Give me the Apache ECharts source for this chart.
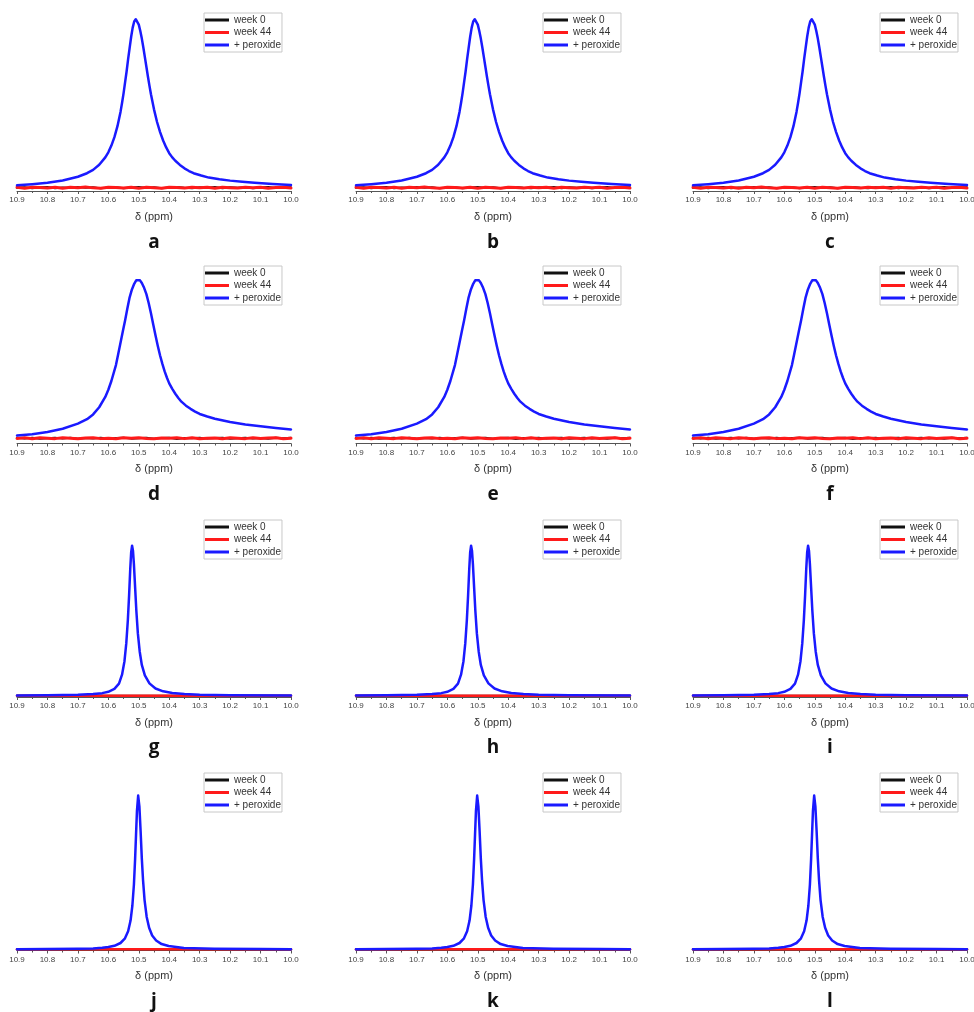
<!DOCTYPE html>
<html><head><meta charset="utf-8">
<script src="https://cdn.jsdelivr.net/npm/echarts@6/dist/echarts.min.js"></script>
<style>html,body{margin:0;padding:0;background:#fff}#c{width:974px;height:1012px}</style>
</head><body><div id="c"></div>
<script>
// ---- data ----
const seriesNames = ['week 0', 'week 44', '+ peroxide'];
const seriesColors = ['#111111', '#ff1a1a', '#1a1aff'];
const panelLetters = ['a','b','c','d','e','f','g','h','i','j','k','l'];

// row 1 (a, b, c)
const ppmRow1 = [10.9, 10.85, 10.8, 10.75, 10.7, 10.67, 10.65, 10.63, 10.61, 10.6, 10.59, 10.58, 10.57, 10.56, 10.555, 10.55, 10.545, 10.54, 10.535, 10.53, 10.525, 10.52, 10.515, 10.51,
  10.505, 10.5, 10.495, 10.49, 10.485, 10.48, 10.475, 10.47, 10.465, 10.46, 10.45, 10.44, 10.43, 10.42, 10.41, 10.4, 10.39, 10.38, 10.365, 10.35, 10.335, 10.32, 10.295, 10.27, 10.235, 10.2, 10.16, 10.12, 10.06, 10.0];
const peroxideRow1 = [1.4, 2.1, 3.0, 4.3, 6.5, 8.6, 10.6, 13.6, 18.0, 21.0, 25.0, 30.0, 36.5, 45.0, 50.3, 56.0, 62.5, 69.0, 76.3, 83.0, 89.6, 95.0, 98.7, 100,
  99.2, 96.8, 93.0, 88.5, 83.2, 77.5, 71.8, 66.0, 60.6, 55.5, 46.5, 39.0, 33.0, 28.0, 23.9, 20.5, 18.0, 16.0, 13.5, 11.5, 9.9, 8.6, 7.2, 6.0, 5.0, 4.2, 3.55, 3.0, 2.2, 1.6];

// row 2 (d, e, f)
const ppmRow2 = [10.9, 10.85, 10.8, 10.75, 10.7, 10.67, 10.65, 10.63, 10.61, 10.6, 10.59, 10.575, 10.5675, 10.56, 10.5525, 10.545, 10.5375, 10.53, 10.5225, 10.515, 10.508, 10.502,
  10.496, 10.49, 10.4825, 10.475, 10.4675, 10.46, 10.4525, 10.445, 10.4375, 10.43, 10.4225, 10.415, 10.4075, 10.4, 10.39, 10.38, 10.37, 10.36, 10.345, 10.33, 10.315, 10.3, 10.275, 10.25, 10.2, 10.15, 10.1, 10.05, 10.0];
const peroxideRow2 = [1.7, 2.6, 4.0, 6.0, 9.2, 12.0, 15.0, 19.5, 26.0, 30.5, 36.0, 46.0, 53.0, 60.0, 67.0, 74.0, 81.5, 88.5, 93.5, 97.0, 99.3, 100,
  99.2, 97.5, 94.5, 90.5, 85.0, 78.5, 71.5, 64.5, 58.0, 52.0, 46.7, 42.0, 38.0, 34.5, 31.0, 28.0, 25.3, 23.0, 20.5, 18.5, 16.8, 15.3, 13.7, 12.3, 10.2, 8.7, 7.5, 6.5, 5.6];

// row 3 (g, h, i)
const ppmRow3 = [10.9, 10.8, 10.7, 10.65, 10.62, 10.6, 10.58, 10.565, 10.555, 10.547, 10.541, 10.536, 10.532, 10.528, 10.525, 10.522,
  10.519, 10.516, 10.512, 10.508, 10.503, 10.497, 10.49, 10.48, 10.465, 10.445, 10.42, 10.39, 10.35, 10.3, 10.2, 10.0];
const peroxideRow3 = [0.15, 0.25, 0.6, 1.1, 1.7, 2.6, 4.5, 8.0, 14.0, 23.0, 35.0, 50.0, 66.0, 84.5, 95.5, 100,
  96.6, 87.7, 72.0, 56.6, 41.5, 29.5, 20.5, 13.5, 8.2, 4.8, 2.9, 1.8, 1.1, 0.65, 0.3, 0.1];

// row 4 (j, k, l)
const ppmRow4 = [10.9, 10.8, 10.7, 10.65, 10.62, 10.6, 10.58, 10.56, 10.546, 10.535, 10.527, 10.521, 10.516, 10.512, 10.509, 10.506, 10.502,
  10.498, 10.494, 10.49, 10.486, 10.481, 10.474, 10.466, 10.456, 10.443, 10.425, 10.402, 10.352, 10.252, 10.1, 10.0];
const peroxideRow4 = [0.1, 0.2, 0.35, 0.6, 1.0, 1.5, 2.3, 4.1, 6.9, 11.7, 18.7, 28.5, 42.0, 59.0, 74.6, 90.0, 100,
  93.0, 77.0, 59.0, 45.0, 32.0, 21.0, 14.0, 9.0, 5.7, 3.4, 2.1, 0.9, 0.4, 0.2, 0.1];

// baselines (week 0 / week 44)
const ppmBaseline = [10.9, 10.875, 10.85, 10.825, 10.8, 10.775, 10.75, 10.725, 10.7, 10.675, 10.65, 10.625, 10.6, 10.575, 10.55, 10.525, 10.5, 10.475, 10.45, 10.425, 10.4, 10.375, 10.35, 10.325, 10.3, 10.275, 10.25, 10.225, 10.2, 10.175, 10.15, 10.125, 10.1, 10.075, 10.05, 10.025, 10.0];
const week0Row1 = [-0.1, 0.3, -0.3, 0.2, 0.4, -0.3, 0.1, -0.2, 0.4, -0.1, 0.3, -0.4, 0.1, 0.3, -0.3, 0.1, 0.4, -0.2, 0.3, -0.3, 0.1, 0.4, -0.1, -0.3, 0.3, 0.0, 0.4, -0.3, 0.2, -0.1, 0.3, -0.3, 0.1, 0.4, -0.2, 0.1, 0.3];
const week44Row1 = [0.2, -0.3, 0.3, 0.1, -0.2, 0.3, -0.3, 0.2, 0.0, 0.4, -0.1, -0.3, 0.3, 0.1, -0.2, 0.3, -0.3, 0.2, 0.0, -0.3, 0.3, 0.1, -0.2, 0.3, -0.1, 0.2, -0.3, 0.3, 0.0, -0.2, 0.3, -0.1, 0.2, -0.3, 0.1, 0.3, -0.2];
const week0Row2 = [0.3, -0.2, 0.4, -0.3, 0.1, 0.3, -0.2, 0.4, -0.3, 0.2, -0.1, 0.4, -0.3, 0.2, 0.3, -0.2, 0.1, 0.4, -0.3, 0.2, 0.3, -0.4, 0.2, 0.0, 0.4, -0.2, 0.2, 0.3, -0.3, 0.1, 0.4, -0.2, 0.2, -0.3, 0.3, 0.0, 0.3];
const week44Row2 = [-0.1, 0.3, -0.3, 0.3, 0.0, -0.2, 0.3, 0.1, -0.3, 0.2, 0.3, -0.2, 0.1, -0.3, 0.3, 0.0, 0.3, -0.1, -0.3, 0.2, 0.1, 0.3, -0.2, 0.3, -0.3, 0.1, 0.2, -0.3, 0.3, 0.0, -0.2, 0.3, -0.1, 0.2, 0.3, -0.3, 0.1];
const ppmFlat = [10.9, 10.0];
const week0Row3 = [0, 0], week44Row3 = [0, 0];
const week0Row4 = [0, 0], week44Row4 = [0, 0];

const rows = [
  {ppm: ppmRow1, per: peroxideRow1, bppm: ppmBaseline, w0: week0Row1, w44: week44Row1},
  {ppm: ppmRow2, per: peroxideRow2, bppm: ppmBaseline, w0: week0Row2, w44: week44Row2},
  {ppm: ppmRow3, per: peroxideRow3, bppm: ppmFlat, w0: week0Row3, w44: week44Row3},
  {ppm: ppmRow4, per: peroxideRow4, bppm: ppmFlat, w0: week0Row4, w44: week44Row4}
];

// ---- layout ----
const FONT = '"Liberation Sans", Arial, sans-serif';
const colLeft = [17, 356, 693], plotW = 274;
const rowTop = [13, 266, 520, 773];
const rowAxis = [191, 443.5, 697, 950.5];
const rowYMin = [-1.96, -3.26, -0.87, -0.78];
const rowYMax = [103.7, 108.2, 117.1, 114.7];
const letterY = [243, 495, 748, 1002];

const zip = (xs, ys) => xs.map((x, k) => [x, ys[k]]);

const grid = [], xAxis = [], yAxis = [], legend = [], series = [], graphic = [];
for (let r = 0; r < 4; r++) {
  for (let c = 0; c < 3; c++) {
    const i = r * 3 + c;
    const d = rows[r];
    grid.push({left: colLeft[c], top: rowTop[r], width: plotW, height: rowAxis[r] - rowTop[r],
      containLabel: false, outerBoundsMode: 'none'});
    xAxis.push({
      gridIndex: i, type: 'value', inverse: true, min: 10.0, max: 10.9, interval: 0.1,
      name: 'δ (ppm)', nameLocation: 'middle', nameGap: 20,
      nameTextStyle: {fontSize: 11, color: '#333', fontFamily: FONT},
      axisLine: {show: true, onZero: false, lineStyle: {color: '#555', width: 1}},
      axisTick: {show: true, length: 3, lineStyle: {color: '#555', width: 1}},
      minorTick: {show: true, splitNumber: 2, length: 2, lineStyle: {color: '#555', width: 1}},
      axisLabel: {fontSize: 8, color: '#444', margin: 5, fontFamily: FONT, hideOverlap: false,
        showMinLabel: true, showMaxLabel: true, formatter: v => v.toFixed(1)},
      splitLine: {show: false}, minorSplitLine: {show: false}
    });
    yAxis.push({gridIndex: i, type: 'value', min: rowYMin[r], max: rowYMax[r], show: false,
      splitLine: {show: false}});
    legend.push({
      left: colLeft[c] + 187, top: rowTop[r], orient: 'vertical', data: seriesNames,
      icon: 'rect', itemWidth: 24, itemHeight: 3, itemGap: 2.5, padding: [2, 1, 2, 1],
      borderColor: '#c8c8c8', borderWidth: 1, selectedMode: false,
      textStyle: {fontSize: 10, lineHeight: 10, color: '#333', fontFamily: FONT}
    });
    const sets = [zip(d.bppm, d.w0), zip(d.bppm, d.w44), zip(d.ppm, d.per)];
    const widths = r < 2 ? [2, 3, 2.5] : [2, 2.5, 2.5];
    for (let s = 0; s < 3; s++) {
      series.push({
        name: seriesNames[s], type: 'line', xAxisIndex: i, yAxisIndex: i,
        data: sets[s], showSymbol: false, symbol: 'none', silent: true, smooth: false,
        color: seriesColors[s],
        lineStyle: {color: seriesColors[s], width: widths[s], join: 'round', cap: 'round'}
      });
    }
    graphic.push({type: 'text', x: colLeft[c] + 137, y: letterY[r],
      style: {text: panelLetters[i], fill: '#111', font: 'bold 19px "Open Sans", sans-serif',
        align: 'center', verticalAlign: 'middle'}});
  }
}

const chart = echarts.init(document.getElementById('c'), null, {renderer: 'canvas'});
chart.setOption({animation: false, backgroundColor: '#fff', grid, xAxis, yAxis, legend, series, graphic});
</script></body></html>
